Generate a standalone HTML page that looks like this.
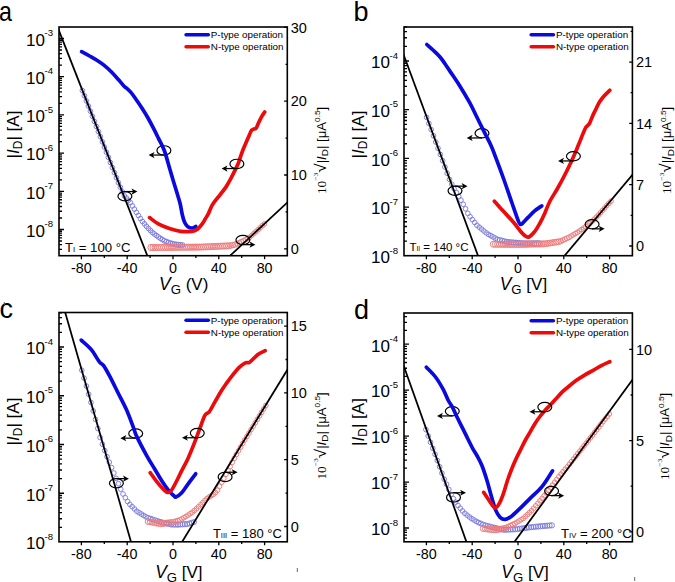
<!DOCTYPE html><html><head><meta charset="utf-8"><style>html,body{margin:0;padding:0;background:#fff}svg{display:block}text{font-family:"Liberation Sans",sans-serif;fill:#000}.sr{font-family:"Liberation Serif",serif}</style></head><body>
<svg width="675" height="582" viewBox="0 0 675 582">
<rect width="675" height="582" fill="#fff"/>
<defs><path id="ah" d="M0.5,0 L-5.4,-3.1 L-3.9,0 L-5.4,3.1 Z" fill="#000"/></defs>
<clipPath id="clipa"><rect x="59" y="27" width="228.3" height="228.7"/></clipPath>
<g><g fill="none" stroke="#7676da" stroke-width="0.9"><circle cx="82.4" cy="90.6" r="2.35"/><circle cx="84.4" cy="95.75" r="2.35"/><circle cx="86.4" cy="100.89" r="2.35"/><circle cx="88.4" cy="106.04" r="2.35"/><circle cx="90.4" cy="111.18" r="2.35"/><circle cx="92.4" cy="116.31" r="2.35"/><circle cx="94.4" cy="121.41" r="2.35"/><circle cx="96.4" cy="126.52" r="2.35"/><circle cx="98.4" cy="131.62" r="2.35"/><circle cx="100.4" cy="136.72" r="2.35"/><circle cx="102.4" cy="141.87" r="2.35"/><circle cx="104.4" cy="147.03" r="2.35"/><circle cx="106.4" cy="152.18" r="2.35"/><circle cx="108.4" cy="157.34" r="2.35"/><circle cx="110.4" cy="162.5" r="2.35"/><circle cx="112.4" cy="167.56" r="2.35"/><circle cx="114.4" cy="172.63" r="2.35"/><circle cx="116.4" cy="177.69" r="2.35"/><circle cx="118.4" cy="182.69" r="2.35"/><circle cx="120.4" cy="187.26" r="2.35"/><circle cx="122.4" cy="191.84" r="2.35"/><circle cx="124.4" cy="195.93" r="2.35"/><circle cx="126.4" cy="198.1" r="2.35"/><circle cx="128.4" cy="200.27" r="2.35"/><circle cx="130.4" cy="202.65" r="2.35"/><circle cx="132.4" cy="205.9" r="2.35"/><circle cx="134.4" cy="209.14" r="2.35"/><circle cx="136.4" cy="212.37" r="2.35"/><circle cx="138.4" cy="215.47" r="2.35"/><circle cx="140.4" cy="218.58" r="2.35"/><circle cx="142.4" cy="221.44" r="2.35"/><circle cx="144.4" cy="223.84" r="2.35"/><circle cx="146.4" cy="226.24" r="2.35"/><circle cx="148.4" cy="228.4" r="2.35"/><circle cx="150.4" cy="230.4" r="2.35"/><circle cx="152.4" cy="232.4" r="2.35"/><circle cx="154.4" cy="233.99" r="2.35"/><circle cx="156.4" cy="235.48" r="2.35"/><circle cx="158.4" cy="236.97" r="2.35"/><circle cx="160.4" cy="238.29" r="2.35"/><circle cx="162.4" cy="239.61" r="2.35"/><circle cx="164.4" cy="240.81" r="2.4"/><circle cx="166.4" cy="241.65" r="2.44"/><circle cx="168.4" cy="242.48" r="2.45"/><circle cx="170.4" cy="243.17" r="2.5"/><circle cx="172.4" cy="243.7" r="2.52"/><circle cx="174.4" cy="244.24" r="2.54"/><circle cx="176.4" cy="244.58" r="2.59"/><circle cx="178.4" cy="244.82" r="2.59"/><circle cx="180.4" cy="245.07" r="2.6"/><circle cx="182.4" cy="245.21" r="2.62"/></g><g fill="none" stroke="#ec7a7a" stroke-width="0.95"><circle cx="151" cy="247.5" r="3.1"/><circle cx="153.1" cy="247.49" r="3.09"/><circle cx="155.2" cy="247.48" r="3.09"/><circle cx="157.3" cy="247.47" r="3.09"/><circle cx="159.4" cy="247.46" r="3.09"/><circle cx="161.5" cy="247.44" r="3.09"/><circle cx="163.6" cy="247.43" r="3.09"/><circle cx="165.7" cy="247.42" r="3.09"/><circle cx="167.8" cy="247.41" r="3.09"/><circle cx="169.9" cy="247.4" r="3.09"/><circle cx="172" cy="247.38" r="3.09"/><circle cx="174.1" cy="247.36" r="3.09"/><circle cx="176.2" cy="247.34" r="3.09"/><circle cx="178.3" cy="247.32" r="3.09"/><circle cx="180.4" cy="247.3" r="3.09"/><circle cx="182.5" cy="247.28" r="3.09"/><circle cx="184.6" cy="247.25" r="3.09"/><circle cx="186.7" cy="247.23" r="3.09"/><circle cx="188.8" cy="247.21" r="3.09"/><circle cx="190.9" cy="247.19" r="3.09"/><circle cx="193" cy="247.17" r="3.09"/><circle cx="195.1" cy="247.15" r="3.09"/><circle cx="197.2" cy="247.13" r="3.09"/><circle cx="199.3" cy="247.11" r="3.08"/><circle cx="201.4" cy="247.04" r="3.05"/><circle cx="203.5" cy="246.95" r="3.05"/><circle cx="205.6" cy="246.85" r="3.05"/><circle cx="207.7" cy="246.76" r="3.05"/><circle cx="209.8" cy="246.67" r="3.05"/><circle cx="211.9" cy="246.58" r="3.05"/><circle cx="214" cy="246.49" r="3.05"/><circle cx="216.1" cy="246.39" r="3.05"/><circle cx="218.2" cy="246.3" r="3.05"/><circle cx="220.3" cy="246.21" r="3.05"/><circle cx="222.4" cy="246.12" r="3.05"/><circle cx="224.5" cy="246.02" r="3.05"/><circle cx="226.6" cy="245.93" r="3.05"/><circle cx="228.7" cy="245.84" r="3"/><circle cx="230.8" cy="245.52" r="2.83"/><circle cx="232.9" cy="245.02" r="2.8"/><circle cx="235" cy="244.52" r="2.72"/><circle cx="237.1" cy="243.71" r="2.56"/><circle cx="239.2" cy="242.8" r="2.54"/><circle cx="241.3" cy="241.84" r="2.53"/><circle cx="243.4" cy="240.88" r="2.48"/><circle cx="245.5" cy="239.72" r="2.36"/><circle cx="247.6" cy="238.48" r="2.36"/><circle cx="249.7" cy="237.21" r="2.35"/><circle cx="251.8" cy="235.34" r="2.35"/><circle cx="253.9" cy="233.47" r="2.35"/><circle cx="256" cy="231.6" r="2.35"/><circle cx="258.1" cy="229.71" r="2.35"/><circle cx="260.2" cy="227.71" r="2.35"/><circle cx="262.3" cy="225.73" r="2.35"/><circle cx="264.4" cy="223.87" r="2.35"/></g><line x1="-117.5" y1="-418.7" x2="323.5" y2="704.3" stroke="#000" stroke-width="1.75" clip-path="url(#clipa)"/><line x1="116" y1="361.8" x2="401" y2="96.8" stroke="#000" stroke-width="1.75" clip-path="url(#clipa)"/><ellipse cx="163.9" cy="150.4" rx="6.95" ry="4.65" fill="none" stroke="#000" stroke-width="1.2"/><line x1="163.9" y1="155.05" x2="152.6" y2="155.05" stroke="#000" stroke-width="1.25"/><use href="#ah" transform="translate(149.1,155.05) rotate(180)"/><path d="M81.6,51.6 C82.93,52.33 87.05,54.55 89.6,56 C92.15,57.45 94.47,58.73 96.9,60.3 C99.33,61.87 101.77,63.45 104.2,65.4 C106.63,67.35 109.07,69.57 111.5,72 C113.93,74.43 116.65,77.58 118.8,80 C120.95,82.42 123.07,85.12 124.4,86.5 C125.73,87.88 125.78,87.4 126.8,88.3 C127.82,89.2 128.92,90 130.5,91.9 C132.08,93.8 134.35,96.93 136.3,99.7 C138.25,102.47 140.25,105.45 142.2,108.5 C144.15,111.55 146.07,114.6 148,118 C149.93,121.4 152.03,125.47 153.8,128.9 C155.57,132.33 156.85,135 158.6,138.6 C160.35,142.2 162.38,145.27 164.3,150.5 C166.22,155.73 168.58,164.88 170.1,170 C171.62,175.12 172.28,177.48 173.4,181.2 C174.52,184.92 175.68,188.58 176.8,192.3 C177.92,196.02 179.18,199.77 180.1,203.5 C181.02,207.23 181.55,211.57 182.3,214.7 C183.05,217.83 183.67,220.28 184.6,222.3 C185.53,224.32 186.6,225.85 187.9,226.8 C189.2,227.75 191.08,228.07 192.4,228 C193.72,227.93 195.23,226.67 195.8,226.4" fill="none" stroke="#0a0ae0" stroke-width="3.7" stroke-linecap="round" stroke-linejoin="round"/><path d="M149.6,217.6 C151.05,218.65 155,222.08 158.3,223.9 C161.6,225.72 165.68,227.27 169.4,228.5 C173.12,229.73 176.88,230.82 180.6,231.3 C184.32,231.78 188.9,231.75 191.7,231.4 C194.5,231.05 195.65,230.45 197.4,229.2 C199.15,227.95 200.83,225.7 202.2,223.9 C203.57,222.1 204.57,220.12 205.6,218.4 C206.63,216.68 207.6,215.18 208.4,213.6 C209.2,212.02 209.72,210.4 210.4,208.9 C211.08,207.4 211.58,206.12 212.5,204.6 C213.42,203.08 214.65,201.43 215.9,199.8 C217.15,198.17 218.33,196.92 220,194.8 C221.67,192.68 224.17,189.68 225.9,187.1 C227.63,184.52 229.1,181.67 230.4,179.3 C231.7,176.93 232.42,175.48 233.7,172.9 C234.98,170.32 237.02,166.35 238.1,163.8 C239.18,161.25 239.35,160.02 240.2,157.6 C241.05,155.18 242.18,151.88 243.2,149.3 C244.22,146.72 245.27,144.5 246.3,142.1 C247.33,139.7 248.53,136.87 249.4,134.9 C250.27,132.93 250.72,131.3 251.5,130.3 C252.28,129.3 253.33,129.25 254.1,128.9 C254.87,128.55 255.33,129.27 256.1,128.2 C256.87,127.13 257.75,124.48 258.7,122.5 C259.65,120.52 260.8,118.05 261.8,116.3 C262.8,114.55 264.22,112.72 264.7,112" fill="none" stroke="#ee0a0a" stroke-width="3.7" stroke-linecap="round" stroke-linejoin="round"/><ellipse cx="124.9" cy="196.2" rx="6.95" ry="4.65" fill="none" stroke="#000" stroke-width="1.2"/><line x1="124.9" y1="191.55" x2="133.4" y2="191.55" stroke="#000" stroke-width="1.25"/><use href="#ah" transform="translate(136.9,191.55) rotate(0)"/><ellipse cx="236.9" cy="163.9" rx="6.95" ry="4.65" fill="none" stroke="#000" stroke-width="1.2"/><line x1="236.9" y1="168.55" x2="225.6" y2="168.55" stroke="#000" stroke-width="1.25"/><use href="#ah" transform="translate(222.1,168.55) rotate(180)"/><ellipse cx="242.9" cy="240" rx="6.95" ry="4.65" fill="none" stroke="#000" stroke-width="1.2"/><line x1="242.9" y1="244.65" x2="251.4" y2="244.65" stroke="#000" stroke-width="1.25"/><use href="#ah" transform="translate(254.9,244.65) rotate(0)"/><rect x="59" y="27" width="228.3" height="228.7" fill="none" stroke="#000" stroke-width="1.6"/><path d="M59,249.47h3 M59,244.7h3 M59,241h3 M59,237.97h3 M59,235.42h3 M59,233.2h3 M59,231.25h3 M59,229.5h5 M59,218h3 M59,211.27h3 M59,206.5h3 M59,202.8h3 M59,199.77h3 M59,197.22h3 M59,195h3 M59,193.05h3 M59,191.3h5 M59,179.8h3 M59,173.07h3 M59,168.3h3 M59,164.6h3 M59,161.57h3 M59,159.02h3 M59,156.8h3 M59,154.85h3 M59,153.1h5 M59,141.6h3 M59,134.87h3 M59,130.1h3 M59,126.4h3 M59,123.37h3 M59,120.82h3 M59,118.6h3 M59,116.65h3 M59,114.9h5 M59,103.4h3 M59,96.67h3 M59,91.9h3 M59,88.2h3 M59,85.17h3 M59,82.62h3 M59,80.4h3 M59,78.45h3 M59,76.7h5 M59,65.2h3 M59,58.47h3 M59,53.7h3 M59,50h3 M59,46.97h3 M59,44.42h3 M59,42.2h3 M59,40.25h3 M59,38.5h5 M287.3,248.8h-3.2 M287.3,175h-3.2 M287.3,101.2h-3.2 M287.3,27.4h-3.2 M287.3,211.9h-1.8 M287.3,138.1h-1.8 M287.3,64.3h-1.8 M81.4,255.7v3.5 M127.2,255.7v3.5 M173,255.7v3.5 M218.8,255.7v3.5 M264.6,255.7v3.5 M104.3,255.7v2.2 M150.1,255.7v2.2 M195.9,255.7v2.2 M241.7,255.7v2.2" stroke="#000" stroke-width="1.3" fill="none"/><text x="26" y="45.8" font-size="17">10<tspan dy="-9.6" dx="-0.4" font-size="9.6">-3</tspan></text><text x="26" y="84" font-size="17">10<tspan dy="-9.6" dx="-0.4" font-size="9.6">-4</tspan></text><text x="26" y="122.2" font-size="17">10<tspan dy="-9.6" dx="-0.4" font-size="9.6">-5</tspan></text><text x="26" y="160.4" font-size="17">10<tspan dy="-9.6" dx="-0.4" font-size="9.6">-6</tspan></text><text x="26" y="198.6" font-size="17">10<tspan dy="-9.6" dx="-0.4" font-size="9.6">-7</tspan></text><text x="26" y="236.8" font-size="17">10<tspan dy="-9.6" dx="-0.4" font-size="9.6">-8</tspan></text><text x="290.8" y="254" font-size="14.5">0</text><text x="290.8" y="180.2" font-size="14.5">10</text><text x="290.8" y="106.4" font-size="14.5">20</text><text x="290.8" y="32.6" font-size="14.5">30</text><text x="81.4" y="273.3" font-size="14.3" text-anchor="middle">-80</text><text x="127.2" y="273.3" font-size="14.3" text-anchor="middle">-40</text><text x="173" y="273.3" font-size="14.3" text-anchor="middle">0</text><text x="218.8" y="273.3" font-size="14.3" text-anchor="middle">40</text><text x="264.6" y="273.3" font-size="14.3" text-anchor="middle">80</text><text x="159.03" y="290" font-size="17.5"><tspan font-style="italic">V</tspan><tspan font-size="13.2" dy="3.6">G</tspan><tspan dy="-3.6" font-size="17"> (V)</tspan></text><text transform="translate(19,134.5) rotate(-90)" font-size="17" text-anchor="middle">|<tspan font-style="italic">I</tspan><tspan font-size="12" dy="3">D</tspan><tspan dy="-3">| [A]</tspan></text><text transform="translate(325.9,150.4) rotate(-90) scale(1.1,1)" font-size="12" text-anchor="middle"><tspan class="sr" font-size="12">10</tspan><tspan class="sr" font-size="7" dy="-7.5">−3</tspan><tspan dy="7.5" font-size="15.5">√</tspan><tspan>|</tspan><tspan font-style="italic">I</tspan><tspan font-size="9" dy="2.5">D</tspan><tspan dy="-2.5">| [μA</tspan><tspan font-size="7.5" dy="-5.5">0.5</tspan><tspan dy="5.5">]</tspan></text><text x="64.9" y="252" font-size="13.2">T<tspan font-size="7.66">I</tspan> = 100 °C</text><path d="M186.1,34.8h22.2" stroke="#0a0ae0" stroke-width="3.6" stroke-linecap="round"/><path d="M186.1,46.8h22.2" stroke="#ee0a0a" stroke-width="3.6" stroke-linecap="round"/><text x="210.8" y="38.4" font-size="9.85">P-type operation</text><text x="210.8" y="50.4" font-size="9.85">N-type operation</text></g>
<clipPath id="clipb"><rect x="404" y="27" width="228.4" height="228.7"/></clipPath>
<g><g fill="none" stroke="#7676da" stroke-width="0.9"><circle cx="426.6" cy="117.3" r="2.35"/><circle cx="428.89" cy="123.47" r="2.35"/><circle cx="431.18" cy="129.64" r="2.35"/><circle cx="433.47" cy="135.8" r="2.35"/><circle cx="435.76" cy="142.02" r="2.35"/><circle cx="438.05" cy="148.25" r="2.35"/><circle cx="440.34" cy="154.48" r="2.35"/><circle cx="442.63" cy="160.73" r="2.35"/><circle cx="444.92" cy="167" r="2.35"/><circle cx="447.21" cy="173.27" r="2.35"/><circle cx="449.5" cy="179.42" r="2.35"/><circle cx="451.79" cy="184.21" r="2.35"/><circle cx="454.08" cy="188.8" r="2.35"/><circle cx="456.37" cy="192.61" r="2.35"/><circle cx="458.66" cy="196.38" r="2.35"/><circle cx="460.95" cy="200.14" r="2.35"/><circle cx="463.24" cy="204.26" r="2.35"/><circle cx="465.53" cy="208.81" r="2.35"/><circle cx="467.82" cy="213.35" r="2.35"/><circle cx="470.11" cy="216.72" r="2.35"/><circle cx="472.4" cy="219.59" r="2.35"/><circle cx="474.69" cy="222.46" r="2.35"/><circle cx="476.98" cy="225.25" r="2.35"/><circle cx="479.27" cy="227.14" r="2.35"/><circle cx="481.56" cy="229.03" r="2.35"/><circle cx="483.85" cy="230.92" r="2.35"/><circle cx="486.14" cy="232.81" r="2.35"/><circle cx="488.43" cy="234.34" r="2.36"/><circle cx="490.72" cy="235.62" r="2.37"/><circle cx="493.01" cy="236.9" r="2.37"/><circle cx="495.3" cy="238.17" r="2.37"/><circle cx="497.59" cy="239.42" r="2.45"/><circle cx="499.88" cy="240.03" r="2.52"/><circle cx="502.17" cy="240.63" r="2.52"/><circle cx="504.46" cy="241.23" r="2.52"/><circle cx="506.75" cy="241.83" r="2.54"/><circle cx="509.04" cy="242.13" r="2.61"/><circle cx="511.33" cy="242.32" r="2.61"/><circle cx="513.62" cy="242.51" r="2.61"/><circle cx="515.91" cy="242.7" r="2.61"/><circle cx="518.2" cy="242.88" r="2.61"/><circle cx="520.49" cy="243.07" r="2.61"/><circle cx="522.78" cy="243.26" r="2.61"/><circle cx="525.07" cy="243.4" r="2.64"/><circle cx="527.36" cy="243.38" r="2.65"/><circle cx="529.65" cy="243.37" r="2.65"/><circle cx="531.94" cy="243.35" r="2.65"/><circle cx="534.23" cy="243.34" r="2.65"/><circle cx="536.52" cy="243.33" r="2.65"/><circle cx="538.81" cy="243.31" r="2.65"/></g><g fill="none" stroke="#ec7a7a" stroke-width="0.95"><circle cx="493.4" cy="244.2" r="3.1"/><circle cx="495.5" cy="244.22" r="3.09"/><circle cx="497.6" cy="244.23" r="3.09"/><circle cx="499.7" cy="244.25" r="3.09"/><circle cx="501.8" cy="244.26" r="3.09"/><circle cx="503.9" cy="244.28" r="3.09"/><circle cx="506" cy="244.29" r="3.09"/><circle cx="508.1" cy="244.31" r="3.09"/><circle cx="510.2" cy="244.33" r="3.09"/><circle cx="512.3" cy="244.34" r="3.09"/><circle cx="514.4" cy="244.36" r="3.09"/><circle cx="516.5" cy="244.37" r="3.09"/><circle cx="518.6" cy="244.39" r="3.09"/><circle cx="520.7" cy="244.38" r="3.08"/><circle cx="522.8" cy="244.33" r="3.07"/><circle cx="524.9" cy="244.28" r="3.07"/><circle cx="527" cy="244.23" r="3.07"/><circle cx="529.1" cy="244.18" r="3.07"/><circle cx="531.2" cy="244.13" r="3.07"/><circle cx="533.3" cy="244.08" r="3.07"/><circle cx="535.4" cy="244.03" r="3.07"/><circle cx="537.5" cy="243.98" r="3.07"/><circle cx="539.6" cy="243.93" r="3.07"/><circle cx="541.7" cy="243.88" r="3.07"/><circle cx="543.8" cy="243.83" r="3.05"/><circle cx="545.9" cy="243.66" r="2.94"/><circle cx="548" cy="243.34" r="2.91"/><circle cx="550.1" cy="243.02" r="2.91"/><circle cx="552.2" cy="242.7" r="2.91"/><circle cx="554.3" cy="242.37" r="2.91"/><circle cx="556.4" cy="242.05" r="2.91"/><circle cx="558.5" cy="241.73" r="2.91"/><circle cx="560.6" cy="241.22" r="2.64"/><circle cx="562.7" cy="240.25" r="2.52"/><circle cx="564.8" cy="239.28" r="2.52"/><circle cx="566.9" cy="238.31" r="2.52"/><circle cx="569" cy="237.34" r="2.45"/><circle cx="571.1" cy="236.11" r="2.35"/><circle cx="573.2" cy="234.84" r="2.35"/><circle cx="575.3" cy="233.58" r="2.35"/><circle cx="577.4" cy="232.31" r="2.35"/><circle cx="579.5" cy="230.99" r="2.35"/><circle cx="581.6" cy="229.54" r="2.35"/><circle cx="583.7" cy="228.1" r="2.35"/><circle cx="585.8" cy="226.66" r="2.35"/><circle cx="587.9" cy="225.21" r="2.35"/><circle cx="590" cy="223.33" r="2.35"/><circle cx="592.1" cy="221.28" r="2.35"/><circle cx="594.2" cy="219.22" r="2.35"/><circle cx="596.3" cy="217.16" r="2.35"/><circle cx="598.4" cy="215.06" r="2.35"/><circle cx="600.5" cy="212.68" r="2.35"/><circle cx="602.6" cy="210.3" r="2.35"/><circle cx="604.7" cy="207.92" r="2.35"/><circle cx="606.8" cy="205.53" r="2.35"/><circle cx="608.9" cy="203.3" r="2.35"/><circle cx="611" cy="201.2" r="2.39"/></g><line x1="256.7" y1="-341.9" x2="625.2" y2="653.1" stroke="#000" stroke-width="1.75" clip-path="url(#clipb)"/><line x1="428.9" y1="417.4" x2="767.9" y2="13.4" stroke="#000" stroke-width="1.75" clip-path="url(#clipb)"/><ellipse cx="482" cy="133.3" rx="6.95" ry="4.65" fill="none" stroke="#000" stroke-width="1.2"/><line x1="482" y1="137.95" x2="470.7" y2="137.95" stroke="#000" stroke-width="1.25"/><use href="#ah" transform="translate(467.2,137.95) rotate(180)"/><path d="M426.9,44.5 C427.92,45.42 430.85,47.97 433,50 C435.15,52.03 437.83,54.45 439.8,56.7 C441.77,58.95 443.17,61.18 444.8,63.5 C446.43,65.82 447.15,66.95 449.6,70.6 C452.05,74.25 456.2,80.13 459.5,85.4 C462.8,90.67 466.43,96.77 469.4,102.2 C472.37,107.63 475,113.38 477.3,118 C479.6,122.62 480.9,125.28 483.2,129.9 C485.5,134.52 489.07,141.25 491.1,145.7 C493.13,150.15 493.33,151.13 495.4,156.6 C497.47,162.07 500.77,170.85 503.5,178.5 C506.23,186.15 509.33,195.43 511.8,202.5 C514.27,209.57 516.88,217.27 518.3,220.9 C519.72,224.53 519.6,223.9 520.3,224.3 C521,224.7 521.15,224.5 522.5,223.3 C523.85,222.1 526.42,219.13 528.4,217.1 C530.38,215.07 532.18,212.97 534.4,211.1 C536.62,209.23 540.48,206.77 541.7,205.9" fill="none" stroke="#0a0ae0" stroke-width="3.7" stroke-linecap="round" stroke-linejoin="round"/><path d="M494.4,201.2 C495.95,202.93 500.42,207.97 503.7,211.6 C506.98,215.23 510.98,219.37 514.1,223 C517.22,226.63 520.02,231.05 522.4,233.4 C524.78,235.75 526.32,237.45 528.4,237.1 C530.48,236.75 532.97,233.65 534.9,231.3 C536.83,228.95 538.35,226.02 540,223 C541.65,219.98 543.13,216.87 544.8,213.2 C546.47,209.53 547.93,205.03 550,201 C552.07,196.97 554.62,193.58 557.2,189 C559.78,184.42 562.8,178.85 565.5,173.5 C568.2,168.15 571.5,161.03 573.4,156.9 C575.3,152.77 575.75,151.45 576.9,148.7 C578.05,145.95 579.28,142.92 580.3,140.4 C581.32,137.88 582.08,135.77 583,133.6 C583.92,131.43 584.98,128.78 585.8,127.4 C586.62,126.02 587.22,126.1 587.9,125.3 C588.58,124.5 589.1,124.2 589.9,122.6 C590.7,121 591.67,118 592.7,115.7 C593.73,113.4 594.97,111.08 596.1,108.8 C597.23,106.52 598.13,104.17 599.5,102 C600.87,99.83 602.58,97.75 604.3,95.8 C606.02,93.85 608.88,91.22 609.8,90.3" fill="none" stroke="#ee0a0a" stroke-width="3.7" stroke-linecap="round" stroke-linejoin="round"/><ellipse cx="455" cy="190.8" rx="6.95" ry="4.65" fill="none" stroke="#000" stroke-width="1.2"/><line x1="455" y1="186.15" x2="463.5" y2="186.15" stroke="#000" stroke-width="1.25"/><use href="#ah" transform="translate(467,186.15) rotate(0)"/><ellipse cx="573.4" cy="156.3" rx="6.95" ry="4.65" fill="none" stroke="#000" stroke-width="1.2"/><line x1="573.4" y1="160.95" x2="562.1" y2="160.95" stroke="#000" stroke-width="1.25"/><use href="#ah" transform="translate(558.6,160.95) rotate(180)"/><ellipse cx="592.1" cy="224.2" rx="6.95" ry="4.65" fill="none" stroke="#000" stroke-width="1.2"/><line x1="592.1" y1="228.85" x2="600.6" y2="228.85" stroke="#000" stroke-width="1.25"/><use href="#ah" transform="translate(604.1,228.85) rotate(0)"/><rect x="404" y="27" width="228.4" height="228.7" fill="none" stroke="#000" stroke-width="1.6"/><path d="M404,241.14h3 M404,232.56h3 M404,226.48h3 M404,221.76h3 M404,217.9h3 M404,214.64h3 M404,211.82h3 M404,209.33h3 M404,207.1h5 M404,192.44h3 M404,183.86h3 M404,177.78h3 M404,173.06h3 M404,169.2h3 M404,165.94h3 M404,163.12h3 M404,160.63h3 M404,158.4h5 M404,143.74h3 M404,135.16h3 M404,129.08h3 M404,124.36h3 M404,120.5h3 M404,117.24h3 M404,114.42h3 M404,111.93h3 M404,109.7h5 M404,95.04h3 M404,86.46h3 M404,80.38h3 M404,75.66h3 M404,71.8h3 M404,68.54h3 M404,65.72h3 M404,63.23h3 M404,61h5 M404,46.34h3 M404,37.76h3 M404,31.68h3 M404,26.96h3 M632.4,246h-3.2 M632.4,184.68h-3.2 M632.4,123.36h-3.2 M632.4,62.04h-3.2 M632.4,215.34h-1.8 M632.4,154.02h-1.8 M632.4,92.7h-1.8 M632.4,31.38h-1.8 M426.4,255.7v3.5 M472.2,255.7v3.5 M518,255.7v3.5 M563.8,255.7v3.5 M609.6,255.7v3.5 M449.3,255.7v2.2 M495.1,255.7v2.2 M540.9,255.7v2.2 M586.7,255.7v2.2" stroke="#000" stroke-width="1.3" fill="none"/><text x="371" y="68.3" font-size="17">10<tspan dy="-9.6" dx="-0.4" font-size="9.6">-4</tspan></text><text x="371" y="117" font-size="17">10<tspan dy="-9.6" dx="-0.4" font-size="9.6">-5</tspan></text><text x="371" y="165.7" font-size="17">10<tspan dy="-9.6" dx="-0.4" font-size="9.6">-6</tspan></text><text x="371" y="214.4" font-size="17">10<tspan dy="-9.6" dx="-0.4" font-size="9.6">-7</tspan></text><text x="371" y="263.1" font-size="17">10<tspan dy="-9.6" dx="-0.4" font-size="9.6">-8</tspan></text><text x="635.9" y="251.2" font-size="14.5">0</text><text x="635.9" y="189.88" font-size="14.5">7</text><text x="635.9" y="128.56" font-size="14.5">14</text><text x="635.9" y="67.24" font-size="14.5">21</text><text x="426.4" y="273.3" font-size="14.3" text-anchor="middle">-80</text><text x="472.2" y="273.3" font-size="14.3" text-anchor="middle">-40</text><text x="518" y="273.3" font-size="14.3" text-anchor="middle">0</text><text x="563.8" y="273.3" font-size="14.3" text-anchor="middle">40</text><text x="609.6" y="273.3" font-size="14.3" text-anchor="middle">80</text><text x="499.68" y="290" font-size="17.5"><tspan font-style="italic">V</tspan><tspan font-size="13.2" dy="3.6">G</tspan><tspan dy="-3.6" font-size="17"> [V]</tspan></text><text transform="translate(364,134.5) rotate(-90)" font-size="17" text-anchor="middle">|<tspan font-style="italic">I</tspan><tspan font-size="12" dy="3">D</tspan><tspan dy="-3">| [A]</tspan></text><text transform="translate(671,150.4) rotate(-90) scale(1.1,1)" font-size="12" text-anchor="middle"><tspan class="sr" font-size="12">10</tspan><tspan class="sr" font-size="7" dy="-7.5">−3</tspan><tspan dy="7.5" font-size="15.5">√</tspan><tspan>|</tspan><tspan font-style="italic">I</tspan><tspan font-size="9" dy="2.5">D</tspan><tspan dy="-2.5">| [μA</tspan><tspan font-size="7.5" dy="-5.5">0.5</tspan><tspan dy="5.5">]</tspan></text><text x="409.4" y="251.1" font-size="11.5">T<tspan font-size="6.67">II</tspan> = 140 °C</text><path d="M531.2,34.8h22.2" stroke="#0a0ae0" stroke-width="3.6" stroke-linecap="round"/><path d="M531.2,46.8h22.2" stroke="#ee0a0a" stroke-width="3.6" stroke-linecap="round"/><text x="555.9" y="38.4" font-size="9.85">P-type operation</text><text x="555.9" y="50.4" font-size="9.85">N-type operation</text></g>
<clipPath id="clipc"><rect x="59" y="312.5" width="228.3" height="229.3"/></clipPath>
<g><g fill="none" stroke="#7676da" stroke-width="0.9"><circle cx="81.8" cy="370.2" r="2.35"/><circle cx="84.09" cy="378.14" r="2.35"/><circle cx="86.38" cy="386.09" r="2.35"/><circle cx="88.67" cy="394.27" r="2.35"/><circle cx="90.96" cy="402.46" r="2.35"/><circle cx="93.25" cy="410.93" r="2.35"/><circle cx="95.54" cy="419.41" r="2.35"/><circle cx="97.83" cy="428.47" r="2.35"/><circle cx="100.12" cy="437.59" r="2.35"/><circle cx="102.41" cy="444.26" r="2.35"/><circle cx="104.7" cy="450.6" r="2.35"/><circle cx="106.99" cy="456.7" r="2.35"/><circle cx="109.28" cy="462.14" r="2.35"/><circle cx="111.57" cy="467.57" r="2.35"/><circle cx="113.86" cy="473.01" r="2.35"/><circle cx="116.15" cy="478.37" r="2.35"/><circle cx="118.44" cy="483.7" r="2.35"/><circle cx="120.73" cy="489.11" r="2.35"/><circle cx="123.02" cy="493.95" r="2.35"/><circle cx="125.31" cy="497.73" r="2.35"/><circle cx="127.6" cy="501.51" r="2.35"/><circle cx="129.89" cy="504.39" r="2.35"/><circle cx="132.18" cy="506.68" r="2.35"/><circle cx="134.47" cy="508.97" r="2.35"/><circle cx="136.76" cy="511.26" r="2.35"/><circle cx="139.05" cy="512.65" r="2.35"/><circle cx="141.34" cy="514.03" r="2.35"/><circle cx="143.63" cy="515.41" r="2.35"/><circle cx="145.92" cy="516.79" r="2.36"/><circle cx="148.21" cy="517.87" r="2.46"/><circle cx="150.5" cy="518.64" r="2.48"/><circle cx="152.79" cy="519.41" r="2.48"/><circle cx="155.08" cy="520.18" r="2.48"/><circle cx="157.37" cy="520.95" r="2.48"/><circle cx="159.66" cy="521.72" r="2.5"/><circle cx="161.95" cy="522.29" r="2.52"/><circle cx="164.24" cy="522.87" r="2.52"/><circle cx="166.53" cy="523.45" r="2.52"/><circle cx="168.82" cy="524.03" r="2.52"/><circle cx="171.11" cy="524.51" r="2.6"/><circle cx="173.4" cy="524.54" r="2.64"/><circle cx="175.69" cy="524.57" r="2.64"/><circle cx="177.98" cy="524.6" r="2.64"/><circle cx="180.27" cy="524.45" r="2.62"/><circle cx="182.56" cy="524.31" r="2.62"/><circle cx="184.85" cy="524.16" r="2.62"/><circle cx="187.14" cy="524.01" r="2.57"/><circle cx="189.43" cy="523.39" r="2.51"/><circle cx="191.72" cy="522.73" r="2.51"/><circle cx="194.01" cy="522.07" r="2.51"/></g><g fill="none" stroke="#ec7a7a" stroke-width="0.95"><circle cx="148.2" cy="521.5" r="2.98"/><circle cx="150.3" cy="521.91" r="2.86"/><circle cx="152.4" cy="522.32" r="2.86"/><circle cx="154.5" cy="522.73" r="2.86"/><circle cx="156.6" cy="523.14" r="2.86"/><circle cx="158.7" cy="523.55" r="2.88"/><circle cx="160.8" cy="523.71" r="3.05"/><circle cx="162.9" cy="523.47" r="2.96"/><circle cx="165" cy="523.24" r="2.96"/><circle cx="167.1" cy="523" r="2.96"/><circle cx="169.2" cy="522.76" r="2.96"/><circle cx="171.3" cy="522.53" r="2.96"/><circle cx="173.4" cy="522.27" r="2.81"/><circle cx="175.5" cy="521.54" r="2.67"/><circle cx="177.6" cy="520.82" r="2.67"/><circle cx="179.7" cy="520.1" r="2.54"/><circle cx="181.8" cy="518.93" r="2.35"/><circle cx="183.9" cy="517.67" r="2.35"/><circle cx="186" cy="516.42" r="2.35"/><circle cx="188.1" cy="515.08" r="2.35"/><circle cx="190.2" cy="513.69" r="2.35"/><circle cx="192.3" cy="512.25" r="2.35"/><circle cx="194.4" cy="510.46" r="2.35"/><circle cx="196.5" cy="508.68" r="2.35"/><circle cx="198.6" cy="506.71" r="2.35"/><circle cx="200.7" cy="504.64" r="2.35"/><circle cx="202.8" cy="502.56" r="2.35"/><circle cx="204.9" cy="500.48" r="2.35"/><circle cx="207" cy="498.5" r="2.35"/><circle cx="209.1" cy="497.1" r="2.35"/><circle cx="211.2" cy="495.74" r="2.35"/><circle cx="213.3" cy="494.35" r="2.35"/><circle cx="215.4" cy="492.56" r="2.35"/><circle cx="217.5" cy="490.25" r="2.35"/><circle cx="219.6" cy="486.25" r="2.35"/><circle cx="221.7" cy="482.26" r="2.35"/><circle cx="223.8" cy="478.3" r="2.35"/><circle cx="225.9" cy="474.35" r="2.35"/><circle cx="228" cy="470.51" r="2.35"/><circle cx="230.1" cy="466.61" r="2.35"/><circle cx="232.2" cy="462.46" r="2.35"/><circle cx="234.3" cy="458.37" r="2.35"/><circle cx="236.4" cy="454.55" r="2.35"/><circle cx="238.5" cy="450.78" r="2.35"/><circle cx="240.6" cy="447.12" r="2.35"/><circle cx="242.7" cy="443.46" r="2.35"/><circle cx="244.8" cy="439.85" r="2.35"/><circle cx="246.9" cy="436.43" r="2.35"/><circle cx="249" cy="433.01" r="2.35"/><circle cx="251.1" cy="429.59" r="2.35"/><circle cx="253.2" cy="426.17" r="2.35"/><circle cx="255.3" cy="422.74" r="2.35"/><circle cx="257.4" cy="419.3" r="2.35"/><circle cx="259.5" cy="415.85" r="2.35"/><circle cx="261.6" cy="412.41" r="2.35"/><circle cx="263.7" cy="408.96" r="2.35"/><circle cx="265.8" cy="405.52" r="2.35"/></g><line x1="-66.4" y1="-146.1" x2="262.6" y2="1000.4" stroke="#000" stroke-width="1.75" clip-path="url(#clipc)"/><line x1="-27.2" y1="884.1" x2="496.3" y2="28.1" stroke="#000" stroke-width="1.75" clip-path="url(#clipc)"/><ellipse cx="135.7" cy="433.5" rx="6.95" ry="4.65" fill="none" stroke="#000" stroke-width="1.2"/><line x1="135.7" y1="438.15" x2="124.4" y2="438.15" stroke="#000" stroke-width="1.25"/><use href="#ah" transform="translate(120.9,438.15) rotate(180)"/><path d="M81.2,340.1 C82.85,341.65 88.07,345.77 91.1,349.4 C94.13,353.03 97.32,359.2 99.4,361.9 C101.48,364.6 101.87,363.18 103.6,365.6 C105.33,368.02 107.38,371.83 109.8,376.4 C112.22,380.97 115.33,387.47 118.1,393 C120.87,398.53 123.8,403.72 126.4,409.6 C129,415.48 131.97,423.8 133.7,428.3 C135.43,432.8 134.62,432.02 136.8,436.6 C138.98,441.18 143.85,450.45 146.8,455.8 C149.75,461.15 151.93,464.42 154.5,468.7 C157.07,472.98 159.83,477.85 162.2,481.5 C164.57,485.15 166.77,488.23 168.7,490.6 C170.63,492.97 172.58,494.63 173.8,495.7 C175.02,496.77 174.72,497.43 176,497 C177.28,496.57 179.5,495.25 181.5,493.1 C183.5,490.95 185.63,487.32 188,484.1 C190.37,480.88 194.42,475.52 195.7,473.8" fill="none" stroke="#0a0ae0" stroke-width="3.7" stroke-linecap="round" stroke-linejoin="round"/><path d="M150.2,472.7 C151.13,473.97 153.8,477.75 155.8,480.3 C157.8,482.85 160.27,485.98 162.2,488 C164.13,490.02 165.9,491.97 167.4,492.4 C168.9,492.83 169.7,492.42 171.2,490.6 C172.7,488.78 174.68,484.73 176.4,481.5 C178.12,478.27 179.57,475.05 181.5,471.2 C183.43,467.35 185.85,463.12 188,458.4 C190.15,453.68 192.43,447.88 194.4,442.9 C196.37,437.92 198.03,433.13 199.8,428.5 C201.57,423.87 203.45,417.85 205,415.1 C206.55,412.35 207.9,413.38 209.1,412 C210.3,410.62 210.3,410.1 212.2,406.8 C214.1,403.5 218.07,396.18 220.5,392.2 C222.93,388.22 224.72,385.83 226.8,382.9 C228.88,379.97 230.93,377.2 233,374.6 C235.07,372 237.13,369.27 239.2,367.3 C241.27,365.33 243.67,363.65 245.4,362.8 C247.13,361.95 247.52,363.58 249.6,362.2 C251.68,360.82 255.32,356.42 257.9,354.5 C260.48,352.58 263.9,351.33 265.1,350.7" fill="none" stroke="#ee0a0a" stroke-width="3.7" stroke-linecap="round" stroke-linejoin="round"/><ellipse cx="116.4" cy="483.3" rx="6.95" ry="4.65" fill="none" stroke="#000" stroke-width="1.2"/><line x1="116.4" y1="478.65" x2="124.9" y2="478.65" stroke="#000" stroke-width="1.25"/><use href="#ah" transform="translate(128.4,478.65) rotate(0)"/><ellipse cx="197.3" cy="433.1" rx="6.95" ry="4.65" fill="none" stroke="#000" stroke-width="1.2"/><line x1="197.3" y1="437.75" x2="186" y2="437.75" stroke="#000" stroke-width="1.25"/><use href="#ah" transform="translate(182.5,437.75) rotate(180)"/><ellipse cx="225.1" cy="476.9" rx="6.95" ry="4.65" fill="none" stroke="#000" stroke-width="1.2"/><line x1="225.1" y1="472.25" x2="233.6" y2="472.25" stroke="#000" stroke-width="1.25"/><use href="#ah" transform="translate(237.1,472.25) rotate(0)"/><rect x="59" y="312.5" width="228.3" height="229.3" fill="none" stroke="#000" stroke-width="1.6"/><path d="M59,527.32h3 M59,518.74h3 M59,512.65h3 M59,507.93h3 M59,504.07h3 M59,500.8h3 M59,497.97h3 M59,495.48h3 M59,493.25h5 M59,478.57h3 M59,469.99h3 M59,463.9h3 M59,459.18h3 M59,455.32h3 M59,452.05h3 M59,449.22h3 M59,446.73h3 M59,444.5h5 M59,429.82h3 M59,421.24h3 M59,415.15h3 M59,410.43h3 M59,406.57h3 M59,403.3h3 M59,400.47h3 M59,397.98h3 M59,395.75h5 M59,381.07h3 M59,372.49h3 M59,366.4h3 M59,361.68h3 M59,357.82h3 M59,354.55h3 M59,351.72h3 M59,349.23h3 M59,347h5 M59,332.32h3 M59,323.74h3 M59,317.65h3 M59,312.93h3 M287.3,526.5h-3.2 M287.3,459.7h-3.2 M287.3,392.9h-3.2 M287.3,326.1h-3.2 M287.3,493.1h-1.8 M287.3,426.3h-1.8 M287.3,359.5h-1.8 M81.4,541.8v3.5 M127.2,541.8v3.5 M173,541.8v3.5 M218.8,541.8v3.5 M264.6,541.8v3.5 M104.3,541.8v2.2 M150.1,541.8v2.2 M195.9,541.8v2.2 M241.7,541.8v2.2" stroke="#000" stroke-width="1.3" fill="none"/><text x="26" y="354.3" font-size="17">10<tspan dy="-9.6" dx="-0.4" font-size="9.6">-4</tspan></text><text x="26" y="403.05" font-size="17">10<tspan dy="-9.6" dx="-0.4" font-size="9.6">-5</tspan></text><text x="26" y="451.8" font-size="17">10<tspan dy="-9.6" dx="-0.4" font-size="9.6">-6</tspan></text><text x="26" y="500.55" font-size="17">10<tspan dy="-9.6" dx="-0.4" font-size="9.6">-7</tspan></text><text x="26" y="549.3" font-size="17">10<tspan dy="-9.6" dx="-0.4" font-size="9.6">-8</tspan></text><text x="290.8" y="531.7" font-size="14.5">0</text><text x="290.8" y="464.9" font-size="14.5">5</text><text x="290.8" y="398.1" font-size="14.5">10</text><text x="290.8" y="331.3" font-size="14.5">15</text><text x="81.4" y="559.4" font-size="14.3" text-anchor="middle">-80</text><text x="127.2" y="559.4" font-size="14.3" text-anchor="middle">-40</text><text x="173" y="559.4" font-size="14.3" text-anchor="middle">0</text><text x="218.8" y="559.4" font-size="14.3" text-anchor="middle">40</text><text x="264.6" y="559.4" font-size="14.3" text-anchor="middle">80</text><text x="155.14" y="578.1" font-size="17.5"><tspan font-style="italic">V</tspan><tspan font-size="13.2" dy="3.6">G</tspan><tspan dy="-3.6" font-size="17"> [V]</tspan></text><text transform="translate(19,421.5) rotate(-90)" font-size="17" text-anchor="middle">|<tspan font-style="italic">I</tspan><tspan font-size="12" dy="3">D</tspan><tspan dy="-3">| [A]</tspan></text><text transform="translate(325.9,435.9) rotate(-90) scale(1.1,1)" font-size="12" text-anchor="middle"><tspan class="sr" font-size="12">10</tspan><tspan class="sr" font-size="7" dy="-7.5">−3</tspan><tspan dy="7.5" font-size="15.5">√</tspan><tspan>|</tspan><tspan font-style="italic">I</tspan><tspan font-size="9" dy="2.5">D</tspan><tspan dy="-2.5">| [μA</tspan><tspan font-size="7.5" dy="-5.5">0.5</tspan><tspan dy="5.5">]</tspan></text><text x="212.9" y="538.1" font-size="13">T<tspan font-size="7.54">III</tspan> = 180 °C</text><path d="M186.1,320.3h22.2" stroke="#0a0ae0" stroke-width="3.6" stroke-linecap="round"/><path d="M186.1,332.3h22.2" stroke="#ee0a0a" stroke-width="3.6" stroke-linecap="round"/><text x="210.8" y="323.9" font-size="9.85">P-type operation</text><text x="210.8" y="335.9" font-size="9.85">N-type operation</text></g>
<clipPath id="clipd"><rect x="404" y="313" width="228.4" height="228.8"/></clipPath>
<g><g fill="none" stroke="#7676da" stroke-width="0.9"><circle cx="425.9" cy="429.6" r="2.35"/><circle cx="428.19" cy="435.97" r="2.35"/><circle cx="430.48" cy="442.26" r="2.35"/><circle cx="432.77" cy="448.26" r="2.35"/><circle cx="435.06" cy="454.27" r="2.35"/><circle cx="437.35" cy="460.53" r="2.35"/><circle cx="439.64" cy="466.82" r="2.35"/><circle cx="441.93" cy="473.11" r="2.35"/><circle cx="444.22" cy="479.1" r="2.35"/><circle cx="446.51" cy="484.26" r="2.35"/><circle cx="448.8" cy="489.42" r="2.35"/><circle cx="451.09" cy="494.58" r="2.35"/><circle cx="453.38" cy="498.67" r="2.35"/><circle cx="455.67" cy="502.19" r="2.35"/><circle cx="457.96" cy="505.49" r="2.35"/><circle cx="460.25" cy="508.22" r="2.35"/><circle cx="462.54" cy="510.96" r="2.35"/><circle cx="464.83" cy="513.36" r="2.35"/><circle cx="467.12" cy="515.17" r="2.35"/><circle cx="469.41" cy="516.98" r="2.35"/><circle cx="471.7" cy="518.61" r="2.35"/><circle cx="473.99" cy="519.99" r="2.35"/><circle cx="476.28" cy="521.38" r="2.36"/><circle cx="478.57" cy="522.55" r="2.43"/><circle cx="480.86" cy="523.54" r="2.43"/><circle cx="483.15" cy="524.53" r="2.45"/><circle cx="485.44" cy="525.31" r="2.51"/><circle cx="487.73" cy="525.96" r="2.51"/><circle cx="490.02" cy="526.6" r="2.52"/><circle cx="492.31" cy="527.16" r="2.53"/><circle cx="494.6" cy="527.71" r="2.53"/><circle cx="496.89" cy="528.26" r="2.53"/><circle cx="499.18" cy="528.81" r="2.53"/><circle cx="501.47" cy="529.36" r="2.53"/><circle cx="503.76" cy="529.78" r="2.62"/><circle cx="506.05" cy="529.68" r="2.63"/><circle cx="508.34" cy="529.57" r="2.63"/><circle cx="510.63" cy="529.47" r="2.63"/><circle cx="512.92" cy="529.37" r="2.63"/><circle cx="515.21" cy="529.27" r="2.63"/><circle cx="517.5" cy="529.09" r="2.59"/><circle cx="519.79" cy="528.76" r="2.58"/><circle cx="522.08" cy="528.43" r="2.58"/><circle cx="524.37" cy="528.1" r="2.58"/><circle cx="526.66" cy="527.78" r="2.58"/><circle cx="528.95" cy="527.45" r="2.58"/><circle cx="531.24" cy="527.18" r="2.6"/><circle cx="533.53" cy="526.95" r="2.6"/><circle cx="535.82" cy="526.73" r="2.6"/><circle cx="538.11" cy="526.51" r="2.6"/><circle cx="540.4" cy="526.28" r="2.6"/><circle cx="542.69" cy="526.06" r="2.6"/><circle cx="544.98" cy="525.87" r="2.61"/><circle cx="547.27" cy="525.7" r="2.61"/><circle cx="549.56" cy="525.53" r="2.61"/><circle cx="551.85" cy="525.36" r="2.62"/></g><g fill="none" stroke="#ec7a7a" stroke-width="0.95"><circle cx="483.3" cy="528.5" r="3.01"/><circle cx="485.4" cy="528.79" r="2.93"/><circle cx="487.5" cy="529.08" r="2.93"/><circle cx="489.6" cy="529.36" r="2.95"/><circle cx="491.7" cy="529.53" r="3.04"/><circle cx="493.8" cy="529.6" r="3.06"/><circle cx="495.9" cy="529.67" r="3.1"/><circle cx="498" cy="529.52" r="2.92"/><circle cx="500.1" cy="529.14" r="2.87"/><circle cx="502.2" cy="528.75" r="2.87"/><circle cx="504.3" cy="528.37" r="2.74"/><circle cx="506.4" cy="527.51" r="2.52"/><circle cx="508.5" cy="526.54" r="2.52"/><circle cx="510.6" cy="525.57" r="2.52"/><circle cx="512.7" cy="524.6" r="2.51"/><circle cx="514.8" cy="523.52" r="2.39"/><circle cx="516.9" cy="522.25" r="2.35"/><circle cx="519" cy="520.99" r="2.35"/><circle cx="521.1" cy="519.72" r="2.35"/><circle cx="523.2" cy="518.46" r="2.35"/><circle cx="525.3" cy="516.55" r="2.35"/><circle cx="527.4" cy="514.6" r="2.35"/><circle cx="529.5" cy="512.65" r="2.35"/><circle cx="531.6" cy="510.68" r="2.35"/><circle cx="533.7" cy="508.22" r="2.35"/><circle cx="535.8" cy="505.75" r="2.35"/><circle cx="537.9" cy="503.29" r="2.35"/><circle cx="540" cy="500.82" r="2.35"/><circle cx="542.1" cy="498.36" r="2.35"/><circle cx="544.2" cy="495.77" r="2.35"/><circle cx="546.3" cy="493.1" r="2.35"/><circle cx="548.4" cy="490.42" r="2.35"/><circle cx="550.5" cy="487.75" r="2.35"/><circle cx="552.6" cy="485.07" r="2.35"/><circle cx="554.7" cy="482.26" r="2.35"/><circle cx="556.8" cy="479.45" r="2.35"/><circle cx="558.9" cy="476.64" r="2.35"/><circle cx="561" cy="474.14" r="2.35"/><circle cx="563.1" cy="471.72" r="2.35"/><circle cx="565.2" cy="469.3" r="2.35"/><circle cx="567.3" cy="466.88" r="2.35"/><circle cx="569.4" cy="464.25" r="2.35"/><circle cx="571.5" cy="461.63" r="2.35"/><circle cx="573.6" cy="459" r="2.35"/><circle cx="575.7" cy="456.38" r="2.35"/><circle cx="577.8" cy="453.75" r="2.35"/><circle cx="579.9" cy="451.11" r="2.35"/><circle cx="582" cy="448.45" r="2.35"/><circle cx="584.1" cy="445.79" r="2.35"/><circle cx="586.2" cy="443.13" r="2.35"/><circle cx="588.3" cy="440.47" r="2.35"/><circle cx="590.4" cy="437.81" r="2.35"/><circle cx="592.5" cy="435.12" r="2.35"/><circle cx="594.6" cy="432.42" r="2.35"/><circle cx="596.7" cy="429.71" r="2.35"/><circle cx="598.8" cy="427" r="2.35"/><circle cx="600.9" cy="424.29" r="2.35"/><circle cx="603" cy="421.59" r="2.35"/><circle cx="605.1" cy="419.04" r="2.35"/><circle cx="607.2" cy="416.51" r="2.35"/><circle cx="609.3" cy="413.98" r="2.35"/></g><line x1="281" y1="21.6" x2="590" y2="888.6" stroke="#000" stroke-width="1.75" clip-path="url(#clipd)"/><line x1="279.7" y1="864.4" x2="866.7" y2="57.9" stroke="#000" stroke-width="1.75" clip-path="url(#clipd)"/><ellipse cx="452.3" cy="411.3" rx="6.95" ry="4.65" fill="none" stroke="#000" stroke-width="1.2"/><line x1="452.3" y1="415.95" x2="441" y2="415.95" stroke="#000" stroke-width="1.25"/><use href="#ah" transform="translate(437.5,415.95) rotate(180)"/><path d="M426.4,367.2 C427.92,368.83 432.7,373.3 435.5,377 C438.3,380.7 441.07,385.48 443.2,389.4 C445.33,393.32 446.75,397.52 448.3,400.5 C449.85,403.48 451.03,404.52 452.5,407.3 C453.97,410.08 455.3,413.48 457.1,417.2 C458.9,420.92 461.48,425.93 463.3,429.6 C465.12,433.27 466.45,436.08 468,439.2 C469.55,442.32 471.12,445.58 472.6,448.3 C474.08,451.02 475.33,452.58 476.9,455.5 C478.47,458.42 480.28,461.52 482,465.8 C483.72,470.08 485.62,476.05 487.2,481.2 C488.78,486.35 490.07,491.83 491.5,496.7 C492.93,501.57 494.37,506.97 495.8,510.4 C497.23,513.83 498.53,515.8 500.1,517.3 C501.67,518.8 503.35,519.53 505.2,519.4 C507.05,519.27 508.77,518.28 511.2,516.5 C513.63,514.72 516.65,511.72 519.8,508.7 C522.95,505.68 526.37,502.12 530.1,498.4 C533.83,494.68 538.47,490.98 542.2,486.4 C545.93,481.82 550.78,473.48 552.5,470.9" fill="none" stroke="#0a0ae0" stroke-width="3.7" stroke-linecap="round" stroke-linejoin="round"/><path d="M483.7,492.4 C484.57,493.68 487.03,497.52 488.9,500.1 C490.77,502.68 493.18,507.32 494.9,507.9 C496.62,508.48 497.77,506.03 499.2,503.6 C500.63,501.17 502.07,497.32 503.5,493.3 C504.93,489.28 506.22,484.08 507.8,479.5 C509.38,474.92 511.5,469.5 513,465.8 C514.5,462.1 515.37,460.32 516.8,457.3 C518.23,454.28 520.2,450.5 521.6,447.7 C523,444.9 523.78,443.1 525.2,440.5 C526.62,437.9 528.48,434.9 530.1,432.1 C531.72,429.3 533.27,426.3 534.9,423.7 C536.53,421.1 538.12,418.83 539.9,416.5 C541.68,414.17 543.72,411.77 545.6,409.7 C547.48,407.63 549.35,406.05 551.2,404.1 C553.05,402.15 554.85,400.05 556.7,398 C558.55,395.95 560.25,393.77 562.3,391.8 C564.35,389.83 566.58,388.15 569,386.2 C571.42,384.25 574.2,381.95 576.8,380.1 C579.4,378.25 581.8,376.77 584.6,375.1 C587.4,373.43 590.8,371.68 593.6,370.1 C596.4,368.52 598.7,367 601.4,365.6 C604.1,364.2 608.4,362.35 609.8,361.7" fill="none" stroke="#ee0a0a" stroke-width="3.7" stroke-linecap="round" stroke-linejoin="round"/><ellipse cx="453.5" cy="497.4" rx="6.95" ry="4.65" fill="none" stroke="#000" stroke-width="1.2"/><line x1="453.5" y1="492.75" x2="462" y2="492.75" stroke="#000" stroke-width="1.25"/><use href="#ah" transform="translate(465.5,492.75) rotate(0)"/><ellipse cx="544.8" cy="407.1" rx="6.95" ry="4.65" fill="none" stroke="#000" stroke-width="1.2"/><line x1="544.8" y1="411.75" x2="533.5" y2="411.75" stroke="#000" stroke-width="1.25"/><use href="#ah" transform="translate(530,411.75) rotate(180)"/><ellipse cx="551.6" cy="491" rx="6.95" ry="4.65" fill="none" stroke="#000" stroke-width="1.2"/><line x1="551.6" y1="495.65" x2="560.1" y2="495.65" stroke="#000" stroke-width="1.25"/><use href="#ah" transform="translate(563.6,495.65) rotate(0)"/><rect x="404" y="313" width="228.4" height="228.8" fill="none" stroke="#000" stroke-width="1.6"/><path d="M404,538.19h3 M404,535.12h3 M404,532.45h3 M404,530.1h3 M404,528h5 M404,514.17h3 M404,506.08h3 M404,500.34h3 M404,495.88h3 M404,492.24h3 M404,489.17h3 M404,486.5h3 M404,484.15h3 M404,482.05h5 M404,468.22h3 M404,460.13h3 M404,454.39h3 M404,449.93h3 M404,446.29h3 M404,443.22h3 M404,440.55h3 M404,438.2h3 M404,436.1h5 M404,422.27h3 M404,414.18h3 M404,408.44h3 M404,403.98h3 M404,400.34h3 M404,397.27h3 M404,394.6h3 M404,392.25h3 M404,390.15h5 M404,376.32h3 M404,368.23h3 M404,362.49h3 M404,358.03h3 M404,354.39h3 M404,351.32h3 M404,348.65h3 M404,346.3h3 M404,344.2h5 M404,330.37h3 M404,322.28h3 M404,316.54h3 M632.4,531.8h-3.2 M632.4,440.6h-3.2 M632.4,349.4h-3.2 M632.4,486.2h-1.8 M632.4,395h-1.8 M426.4,541.8v3.5 M472.2,541.8v3.5 M518,541.8v3.5 M563.8,541.8v3.5 M609.6,541.8v3.5 M449.3,541.8v2.2 M495.1,541.8v2.2 M540.9,541.8v2.2 M586.7,541.8v2.2" stroke="#000" stroke-width="1.3" fill="none"/><text x="371" y="351.5" font-size="17">10<tspan dy="-9.6" dx="-0.4" font-size="9.6">-4</tspan></text><text x="371" y="397.45" font-size="17">10<tspan dy="-9.6" dx="-0.4" font-size="9.6">-5</tspan></text><text x="371" y="443.4" font-size="17">10<tspan dy="-9.6" dx="-0.4" font-size="9.6">-6</tspan></text><text x="371" y="489.35" font-size="17">10<tspan dy="-9.6" dx="-0.4" font-size="9.6">-7</tspan></text><text x="371" y="535.3" font-size="17">10<tspan dy="-9.6" dx="-0.4" font-size="9.6">-8</tspan></text><text x="635.9" y="537" font-size="14.5">0</text><text x="635.9" y="445.8" font-size="14.5">5</text><text x="635.9" y="354.6" font-size="14.5">10</text><text x="426.4" y="559.4" font-size="14.3" text-anchor="middle">-80</text><text x="472.2" y="559.4" font-size="14.3" text-anchor="middle">-40</text><text x="518" y="559.4" font-size="14.3" text-anchor="middle">0</text><text x="563.8" y="559.4" font-size="14.3" text-anchor="middle">40</text><text x="609.6" y="559.4" font-size="14.3" text-anchor="middle">80</text><text x="501.28" y="578.1" font-size="17.5"><tspan font-style="italic">V</tspan><tspan font-size="13.2" dy="3.6">G</tspan><tspan dy="-3.6" font-size="17"> [V]</tspan></text><text transform="translate(364,422) rotate(-90)" font-size="17" text-anchor="middle">|<tspan font-style="italic">I</tspan><tspan font-size="12" dy="3">D</tspan><tspan dy="-3">| [A]</tspan></text><text transform="translate(669.2,436.4) rotate(-90) scale(1.1,1)" font-size="12" text-anchor="middle"><tspan class="sr" font-size="12">10</tspan><tspan class="sr" font-size="7" dy="-7.5">−3</tspan><tspan dy="7.5" font-size="15.5">√</tspan><tspan>|</tspan><tspan font-style="italic">I</tspan><tspan font-size="9" dy="2.5">D</tspan><tspan dy="-2.5">| [μA</tspan><tspan font-size="7.5" dy="-5.5">0.5</tspan><tspan dy="5.5">]</tspan></text><text x="561" y="538" font-size="13.2">T<tspan font-size="7.66">IV</tspan> = 200 °C</text><path d="M531.2,320.8h22.2" stroke="#0a0ae0" stroke-width="3.6" stroke-linecap="round"/><path d="M531.2,332.8h22.2" stroke="#ee0a0a" stroke-width="3.6" stroke-linecap="round"/><text x="555.9" y="324.4" font-size="9.85">P-type operation</text><text x="555.9" y="336.4" font-size="9.85">N-type operation</text></g>
<text transform="translate(-1.1,20.8) scale(0.86,1)" font-size="27">a</text>
<text x="353.5" y="21" font-size="27">b</text>
<text x="-0.5" y="318.2" font-size="27">c</text>
<text x="353.9" y="318.5" font-size="27">d</text>
<path d="M4.3,302v3.2 M297.3,568v4 M634.7,577v4" stroke="#555" stroke-width="0.9"/>
</svg></body></html>
